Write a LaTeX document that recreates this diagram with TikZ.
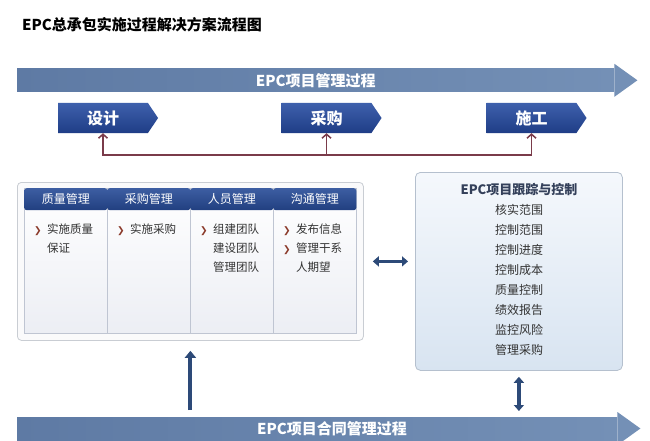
\documentclass[tikz,border=0pt]{standalone}
\usepackage{fontspec}
\setmainfont{Noto Sans CJK SC}
\newfontfamily\dejavu{DejaVu Sans}
\usepackage{tikz}
\usetikzlibrary{arrows.meta,positioning,shapes.symbols}
\definecolor{barL}{HTML}{5E7AA4}
\definecolor{barR}{HTML}{7490B6}
\definecolor{phaseT}{HTML}{3E60AC}
\definecolor{phaseB}{HTML}{1F3D86}
\definecolor{headT}{HTML}{3D5EA2}
\definecolor{headB}{HTML}{213F80}
\definecolor{railred}{HTML}{7A3B4A}
\definecolor{navy}{HTML}{2D4A78}
\definecolor{panelbd}{HTML}{C9CDD3}
\definecolor{panelbg}{HTML}{FAFAFB}
\definecolor{colbd}{HTML}{BFC5D2}
\definecolor{colbot}{HTML}{ECEEF4}
\definecolor{trackbd}{HTML}{B5C0CE}
\definecolor{trackT}{HTML}{F5F8FC}
\definecolor{trackB}{HTML}{D8E4F1}
\definecolor{trackhd}{HTML}{34405A}
\definecolor{ink}{HTML}{333333}
\definecolor{bullet}{HTML}{8B3A2A}
\newcommand\itm[1]{\makebox[13pt][l]{\textcolor{bullet}{\dejavu\fontsize{9}{19}\selectfont ❯}}#1}
\newcommand\cnt[1]{\hspace*{13pt}#1}
\tikzset{
  barb/.tip={Straight Barb[length=4pt,width=9pt]},
  bar/.style={inner sep=0pt,minimum height=23pt,left color=barL,right color=barR,
              text=white,font=\bfseries\fontsize{15}{15}\selectfont},
  phase/.style={shape=signal,signal to=east,signal pointer angle=112,
                minimum width=100pt,minimum height=30pt,inner sep=0pt,
                top color=phaseT,bottom color=phaseB,text=white,
                font=\bfseries\fontsize{16}{16}\selectfont},
  rail/.style={line width=1.5pt,railred},
  panel/.style={draw=panelbd,fill=panelbg,rounded corners=4pt,line width=0.8pt,
                inner sep=0pt,minimum width=346pt,minimum height=158pt},
  colbody/.style={draw=colbd,top color=white,bottom color=colbot,line width=0.6pt,
                  inner sep=0pt,minimum width=83pt,minimum height=145pt},
  colhead/.style={top color=headT,bottom color=headB,rounded corners=2.5pt,
                  inner sep=0pt,minimum width=83pt,minimum height=22pt,text=white,
                  font=\fontsize{12}{12}\selectfont},
  coltext/.style={align=left,inner sep=0pt,text=ink,anchor=north west,
                  font=\fontsize{11.5}{19}\selectfont},
  trackbox/.style={draw=trackbd,top color=trackT,bottom color=trackB,rounded corners=5pt,
                   line width=0.8pt,inner sep=0pt,minimum width=207pt,minimum height=198pt},
  tracktext/.style={text=ink,font=\fontsize{12}{12}\selectfont,inner sep=0pt},
  bluearrow/.style={line width=4pt,navy,-{Triangle[length=7pt,width=11pt]}},
  bluedouble/.style={line width=3.5pt,navy,
                     {Triangle[length=6pt,width=10pt]}-{Triangle[length=6pt,width=10pt]}},
}

\begin{document}
\begin{tikzpicture}[x=1pt,y=-1pt]
  \clip (0,0) rectangle (650,441);
  \fill[white] (0,0) rectangle (650,441);
  \node[anchor=west,inner sep=0pt,font=\bfseries\fontsize{15}{15}\selectfont]
    (title) at (22,25) {EPC总承包实施过程解决方案流程图};
  % process bars
  \node[bar,minimum width=597pt,anchor=west] (pmbar) at (17,80.5) {EPC项目管理过程};
  \fill[barR] (pmbar.north east) -- ++(0,-5) -- ++(23,16.5) -- ++(-23,16.5)
    -- ++(0,-5) -- cycle;
  \node[bar,minimum width=600pt,anchor=north west] (ctbar) at (17,417) {};
  \fill[barR] (ctbar.north east) -- ++(0,-5) -- ++(23,16.5) -- ++(-23,16.5)
    -- ++(0,-5) -- cycle;
  \node[text=white,inner sep=0pt,font=\bfseries\fontsize{15}{15}\selectfont]
    (ctlabel) at (332,428.5) {EPC项目合同管理过程};
  % phases
  \node[phase] (sheji) at (103,118) {设计};
  \node[phase] (caigou) at (326.5,118) {采购};
  \node[phase] (shigong) at (531.5,118) {施工};
  \path (0,155) coordinate (railY);
  \draw[rail,barb-barb] (sheji.south) -- (sheji.south |- railY)
    -- (shigong.south |- railY) -- (shigong.south);
  \draw[rail,-barb] (caigou.south |- railY) -- (caigou.south);
  % management areas
  \node[panel,anchor=north west] (lpanel) at (17,182) {};
  \foreach \i/\h in {1/质量管理,2/采购管理,3/人员管理,4/沟通管理}{
    \node[colbody,anchor=north west] (col\i) at ({24+83*(\i-1)},188) {};
    \node[colhead,anchor=north] (head\i) at (col\i.north) {\h};
  }
  \node[coltext] (txt1) at ([xshift=10pt,yshift=-36pt]col1.north west)
    {\itm{实施质量}\\\cnt{保证}};
  \node[coltext] (txt2) at ([xshift=10pt,yshift=-36pt]col2.north west)
    {\itm{实施采购}};
  \node[coltext] (txt3) at ([xshift=10pt,yshift=-36pt]col3.north west)
    {\itm{组建团队}\\\cnt{建设团队}\\\cnt{管理团队}};
  \node[coltext] (txt4) at ([xshift=10pt,yshift=-36pt]col4.north west)
    {\itm{发布信息}\\\itm{管理干系}\\\cnt{人期望}};
  % tracking and control
  \node[trackbox,anchor=north west] (rpanel) at (415,172) {};
  \node[tracktext,text=trackhd,font=\bfseries\fontsize{13}{13}\selectfont]
    (trktitle) at (519,190) {EPC项目跟踪与控制};
  \foreach \i/\t in {1/核实范围,2/控制范围,3/控制进度,4/控制成本,
                     5/质量控制,6/绩效报告,7/监控风险,8/管理采购}{
    \node[tracktext] (trk\i) at (519,{190+20*\i}) {\t};
  }
  \draw[bluedouble,shorten <=9pt,shorten >=7pt] (lpanel.east) -- (lpanel.east -| rpanel.west);
  \draw[bluearrow,shorten <=7pt,shorten >=10pt] (ctbar.north -| lpanel.south) -- (lpanel.south);
  \draw[bluedouble,shorten <=6pt,shorten >=6pt] (rpanel.south) -- (rpanel.south |- ctbar.north);
\end{tikzpicture}
\end{document}
